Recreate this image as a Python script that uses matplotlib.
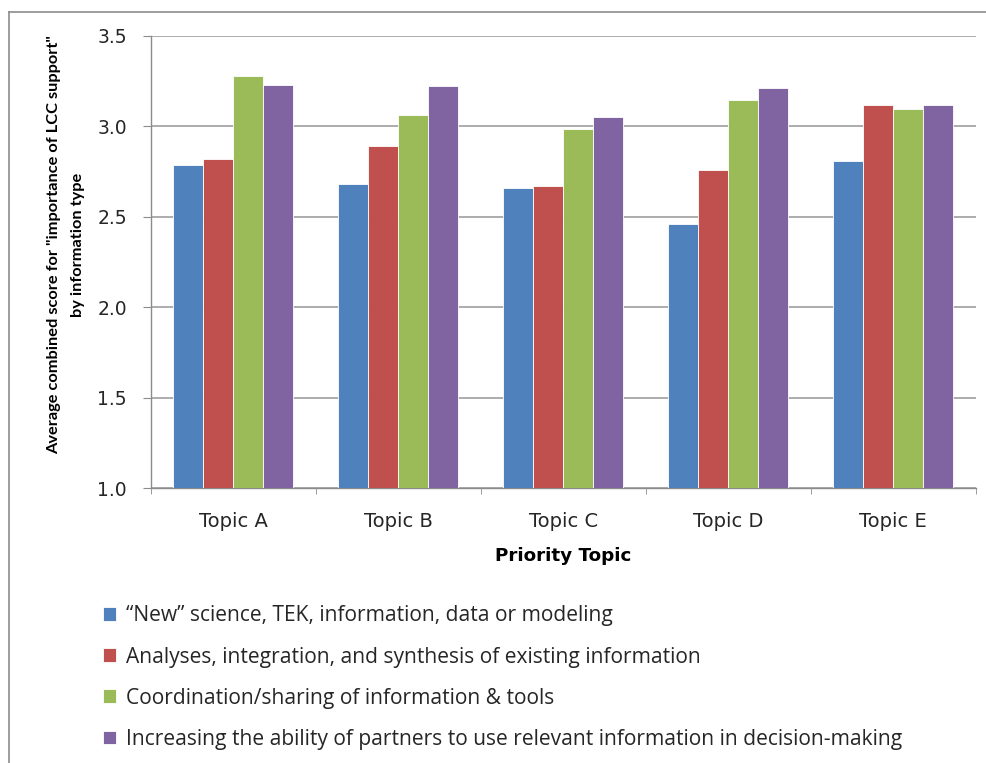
import matplotlib
matplotlib.use("Agg")
import matplotlib.pyplot as plt
import numpy as np
from matplotlib.lines import Line2D

topics = ["Topic A", "Topic B", "Topic C", "Topic D", "Topic E"]
series_names = [
    "\u201cNew\u201d science, TEK, information, data or modeling",
    "Analyses, integration, and synthesis of existing information",
    "Coordination/sharing of information & tools",
    "Increasing the ability of partners to use relevant information in decision-making",
]
new_science = [2.785, 2.683, 2.657, 2.457, 2.809]
analyses = [2.818, 2.893, 2.667, 2.759, 3.118]
coordination = [3.276, 3.062, 2.985, 3.146, 3.096]
increasing_ability = [3.227, 3.221, 3.052, 3.212, 3.118]
colors = ["#4F81BD", "#C0504D", "#9BBB59", "#8064A2"]
y_ticks = [1.0, 1.5, 2.0, 2.5, 3.0, 3.5]

series = [new_science, analyses, coordination, increasing_ability]

W, H = 986, 763
fig = plt.figure(figsize=(W / 100, H / 100), dpi=100)
ax = fig.add_axes([150.7 / W, 1 - 488 / H, 825 / W, (488 - 35.7) / H])

x = np.arange(len(topics))
bar_w = 1 / 5.5
for i, (vals, c, name) in enumerate(zip(series, colors, series_names)):
    offs = (i - 1.5) * bar_w
    ax.bar(x + offs, np.array(vals) - 1.0, bottom=1.0, width=bar_w, color=c,
           edgecolor="white", linewidth=0.6, label=name, zorder=3)

ax.set_xlim(-0.5, len(topics) - 0.5)
ax.set_ylim(1.0, 3.5)
ax.set_yticks(y_ticks)
ax.set_yticklabels([f"{v:.1f}" for v in y_ticks])
ax.yaxis.grid(True, color="#A6A6A6", linewidth=1.3, zorder=0)
ax.set_axisbelow(True)

for s in ["top", "right"]:
    ax.spines[s].set_visible(False)
for s in ["left", "bottom"]:
    ax.spines[s].set_color("#8C8C8C")
    ax.spines[s].set_linewidth(1.0)

ax.set_xticks(x)
ax.set_xticklabels(topics)
ax.tick_params(axis="x", length=0, pad=17, labelsize=14, labelcolor="#262626")
ax.set_xticks(np.arange(-0.5, len(topics) + 0.5, 1), minor=True)
ax.tick_params(axis="x", which="minor", length=4, color="#8C8C8C", direction="out")
ax.tick_params(axis="y", length=6, color="#8C8C8C", direction="out", pad=11,
               labelsize=13.5, labelcolor="#262626")

ax.set_xlabel("Priority Topic", fontsize=13.2, fontweight="bold",
              family="DejaVu Sans", labelpad=12)

fig.text(66.5 / W, 1 - 245 / H,
         "Average combined score for \"importance of LCC support\"\nby information type",
         rotation=90, ha="center", va="center", fontsize=11.8, fontweight="bold",
         family="Lato", linespacing=1.9)

leg = fig.legend(loc="upper left", bbox_to_anchor=(95 / W, 1 - 597 / H),
                 frameon=False, prop={"family": "Open Sans", "size": 15.1},
                 handlelength=0.62, handleheight=0.62, handletextpad=0.48,
                 labelspacing=0.96, borderaxespad=0)
for t in leg.get_texts():
    t.set_color("#262626")

# outer chart frame (left and top edges)
fig.add_artist(Line2D([8.5 / W, 8.5 / W], [0, 1 - 12 / H], transform=fig.transFigure,
                      color="#8C8C8C", linewidth=1.2))
fig.add_artist(Line2D([8.5 / W, 1], [1 - 12 / H, 1 - 12 / H], transform=fig.transFigure,
                      color="#8C8C8C", linewidth=1.2))

fig.savefig("out.png", dpi=100)
